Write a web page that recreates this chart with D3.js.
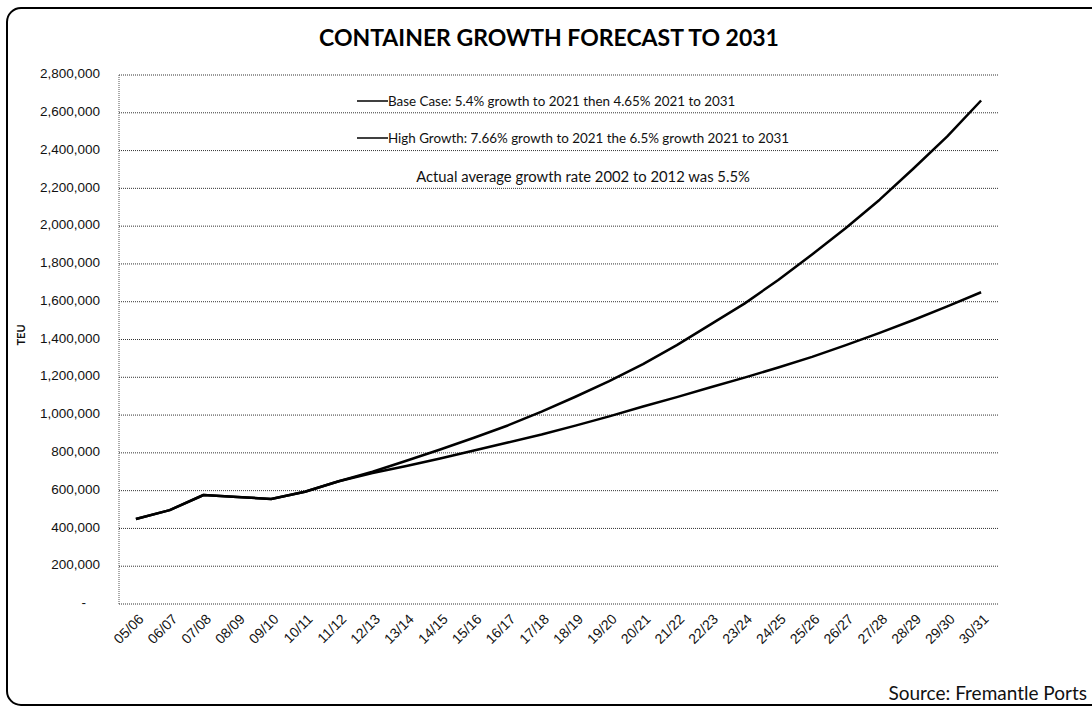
<!DOCTYPE html>
<html>
<head>
<meta charset="utf-8">
<script src="https://cdn.jsdelivr.net/npm/d3@7/dist/d3.min.js"></script>
<style>
  html, body { margin: 0; padding: 0; background: #fff; }
  svg { display: block; font-family: Lato, "Open Sans", "Liberation Sans", sans-serif; }
</style>
</head>
<body>
<svg id="chart" width="1092" height="709"></svg>
<script>
const categories = ["05/06","06/07","07/08","08/09","09/10","10/11","11/12","12/13","13/14","14/15","15/16","16/17","17/18","18/19","19/20","20/21","21/22","22/23","23/24","24/25","25/26","26/27","27/28","28/29","29/30","30/31"];
const baseCase = [450000,497000,577000,566000,556000,594000,650000,693000,730000,770000,812000,855000,897000,944000,993000,1045000,1095000,1147000,1198000,1252000,1308000,1370000,1435000,1503000,1575000,1650000];
const highGrowth = [450000,497000,577000,566000,556000,594000,650000,700000,758000,818000,880000,945000,1018000,1097000,1180000,1270000,1370000,1480000,1590000,1715000,1850000,1990000,2140000,2305000,2475000,2665000];
const yTicks = [0,200000,400000,600000,800000,1000000,1200000,1400000,1600000,1800000,2000000,2200000,2400000,2600000,2800000];
const seriesNames = ["Base Case: 5.4% growth to 2021 then 4.65% 2021 to 2031","High Growth: 7.66% growth to 2021 the 6.5% growth 2021 to 2031"];
const titleText = "CONTAINER GROWTH FORECAST TO 2031";
const noteText = "Actual average growth rate 2002 to 2012 was 5.5%";
const sourceText = "Source: Fremantle Ports";
const yTitle = "TEU";

const svg = d3.select("#chart");
const plot = {left: 119, right: 998, top: 75, bottom: 604};

// outer rounded frame
svg.append("rect")
  .attr("x", 7).attr("y", 8).attr("width", 1100).attr("height", 697)
  .attr("rx", 14).attr("ry", 14)
  .attr("fill", "none").attr("stroke", "#000").attr("stroke-width", 2);

const x = d3.scalePoint().domain(categories).range([plot.left, plot.right]).padding(0.5);
const y = d3.scaleLinear().domain([0, 2800000]).range([plot.bottom, plot.top]);

// gridlines
svg.append("g").selectAll("line").data(yTicks).join("line")
  .attr("x1", plot.left).attr("x2", plot.right)
  .attr("y1", d => y(d)).attr("y2", d => y(d))
  .attr("stroke", "#333").attr("stroke-width", 1)
  .attr("stroke-dasharray", "1,1");

// left border of plot
svg.append("line")
  .attr("x1", plot.left).attr("x2", plot.left)
  .attr("y1", plot.top).attr("y2", plot.bottom)
  .attr("stroke", "#555").attr("stroke-width", 1).attr("stroke-dasharray", "1,1");

// y axis
const yAxis = d3.axisLeft(y).tickValues(yTicks).tickSize(0).tickPadding(19)
  .tickFormat(d => d === 0 ? "-" : d3.format(",")(d));
const gy = svg.append("g").attr("transform", `translate(${plot.left},0)`).call(yAxis);
gy.select(".domain").remove();
gy.selectAll("text").attr("font-size", 13.5).attr("fill", "#111").attr("dy", "0.2em");
gy.selectAll(".tick").filter(d => d === 0).select("text").attr("dx", -14);

// x axis
const xAxis = d3.axisBottom(x).tickSize(0).tickPadding(0);
const gx = svg.append("g").attr("transform", `translate(0,${plot.bottom})`).call(xAxis);
gx.select(".domain").remove();
gx.selectAll("text")
  .attr("font-size", 14).attr("fill", "#111")
  .attr("text-anchor", "end")
  .attr("dy", 0)
  .attr("transform", "translate(8,16) rotate(-45)");

// lines
const line = d3.line().x((d, i) => x(categories[i])).y(d => y(d));
[baseCase, highGrowth].forEach(s => {
  svg.append("path").datum(s)
    .attr("d", line).attr("fill", "none")
    .attr("stroke", "#000").attr("stroke-width", 2.5)
    .attr("stroke-linejoin", "round");
});

// legend
const legY = [101, 138];
seriesNames.forEach((n, i) => {
  svg.append("line").attr("x1", 357).attr("x2", 388)
    .attr("y1", legY[i]).attr("y2", legY[i])
    .attr("stroke", "#000").attr("stroke-width", 1.5);
  svg.append("text").attr("x", 388).attr("y", legY[i] + 4.5)
    .attr("font-size", 13.4).attr("fill", "#111").text(n);
});
svg.append("text").attr("x", 583).attr("y", 182)
  .attr("text-anchor", "middle").attr("font-size", 14.8).attr("fill", "#111").text(noteText);

// title
svg.append("text").attr("x", 549).attr("y", 46)
  .attr("text-anchor", "middle").attr("font-size", 23).attr("font-weight", "bold")
  .attr("fill", "#000").text(titleText);

// y title
svg.append("text")
  .attr("transform", "translate(25,335) rotate(-90)")
  .attr("text-anchor", "middle").attr("font-size", 11).attr("font-weight", "bold")
  .attr("fill", "#111").text(yTitle);

// source
svg.append("text").attr("x", 1087).attr("y", 700)
  .attr("text-anchor", "end").attr("font-size", 19).attr("fill", "#111").text(sourceText);
</script>
</body>
</html>
